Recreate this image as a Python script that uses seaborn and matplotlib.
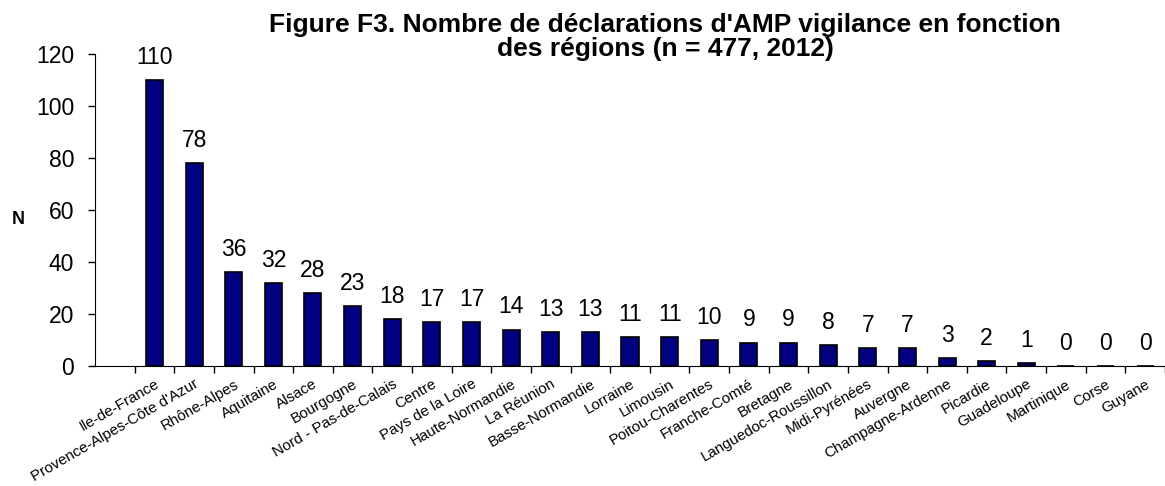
# Figure F3 - AMP vigilance declarations by region (bar chart)

import numpy as np
import pandas as pd
import seaborn as sns
import matplotlib.pyplot as plt
from matplotlib.ticker import FixedLocator

regions = ["Ile-de-France", "Provence-Alpes-Côte d'Azur", "Rhône-Alpes", "Aquitaine",
           "Alsace", "Bourgogne", "Nord - Pas-de-Calais", "Centre", "Pays de la Loire",
           "Haute-Normandie", "La Réunion", "Basse-Normandie", "Lorraine", "Limousin",
           "Poitou-Charentes", "Franche-Comté", "Bretagne", "Languedoc-Roussillon",
           "Midi-Pyrénées", "Auvergne", "Champagne-Ardenne", "Picardie", "Guadeloupe",
           "Martinique", "Corse", "Guyane"]
counts = [110, 78, 36, 32, 28, 23, 18, 17, 17, 14, 13, 13, 11, 11, 10, 9, 9, 8, 7, 7,
          3, 2, 1, 0, 0, 0]
yticks = [0, 20, 40, 60, 80, 100, 120]

df = pd.DataFrame({"region": regions, "n": counts})

sns.set_style("ticks")
plt.rcParams['font.family'] = ['Liberation Sans', 'DejaVu Sans']
plt.rcParams['text.color'] = 'black'
plt.rcParams['axes.labelcolor'] = 'black'
plt.rcParams['xtick.color'] = 'black'
plt.rcParams['ytick.color'] = 'black'

fig = plt.figure(figsize=(11.65, 4.86), dpi=100)
ax = fig.add_axes([95 / 1165, 1 - 366 / 486, 1070 / 1165, 312 / 486])

sns.barplot(data=df, x="region", y="n", color="#000080", edgecolor="black",
            linewidth=1.2, width=0.43, saturation=1, ax=ax)

ax.bar_label(ax.containers[0], fontsize=16.5, padding=8, color='black')

ax.set_ylim(0, 120)
ax.set_xlim(-1.5, len(regions) - 0.5)
ax.set_yticks(yticks)
ax.tick_params(axis='y', labelsize=16.5, length=5, width=1, direction='out', pad=10)

# labels at category centres, small ticks between categories
ax.tick_params(axis='x', which='major', length=0, labelsize=10.9, pad=8)
ax.xaxis.set_minor_locator(FixedLocator(np.arange(-0.5, len(regions), 1.0)))
ax.tick_params(axis='x', which='minor', length=5, width=1, direction='out')
for lbl in ax.get_xticklabels():
    lbl.set_rotation(30)
    lbl.set_ha('right')
    lbl.set_va('top')
    lbl.set_rotation_mode('anchor')

ax.set_xlabel("")
ax.set_ylabel("N", fontsize=13, fontweight='bold', rotation=0, va='center', ha='center')
ax.yaxis.set_label_coords((18 - 95) / 1070, 0.47)

for side in ['top', 'right']:
    ax.spines[side].set_visible(False)
ax.spines['left'].set_color('black')
ax.spines['bottom'].set_color('black')

fig.text(665 / 1165, 1 - 37 / 486,
         "Figure F3. Nombre de déclarations d'AMP vigilance en fonction\ndes régions (n = 477, 2012)",
         ha='center', va='center', fontsize=19, fontweight='bold', linespacing=1.05)

fig.savefig("out.png", dpi=100)
